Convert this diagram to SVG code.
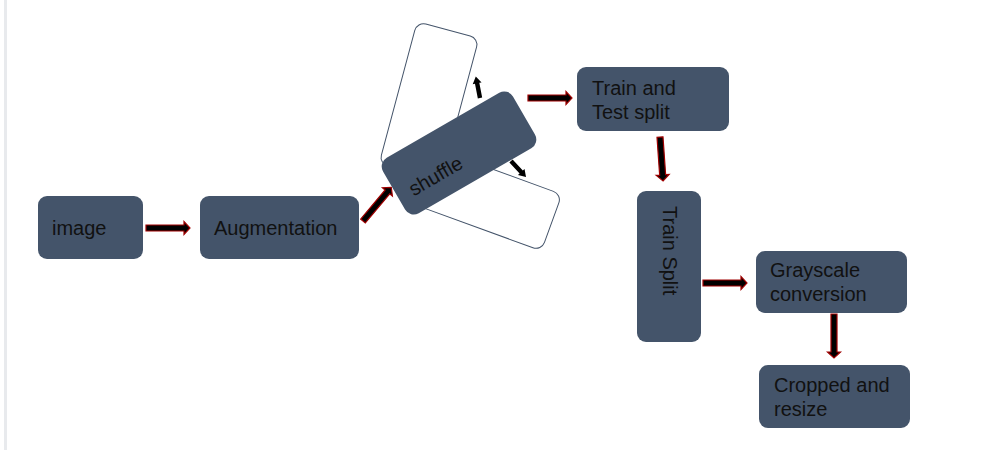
<svg xmlns="http://www.w3.org/2000/svg" width="992" height="450" viewBox="0 0 992 450">
  <defs>
    <style>
      .box { fill: #44546A; }
      .ghost { fill: #ffffff; stroke: #44546A; stroke-width: 1; }
      .lbl { font-family: "Liberation Sans", Arial, sans-serif; font-size: 20px; fill: #111111; }
      .big { fill: #000000; stroke: #A00000; stroke-width: 1.2; stroke-linejoin: miter; }
      .small { fill: #000000; }
    </style>
    <path id="bigArrow" d="M0,-3 L38,-3 L38,-6.5 L44,0 L38,6.5 L38,3 L0,3 Z"/>
    <path id="smallArrow" d="M0,-2.2 L15,-2.2 L15,-4.5 L22,0 L15,4.5 L15,2.2 L0,2.2 Z"/>
  </defs>

  <rect x="0" y="0" width="992" height="450" fill="#ffffff"/>
  <rect x="4" y="0" width="3" height="450" fill="#e8eaed"/>

  <g id="ghost-rects">
    <rect class="ghost" x="-32" y="-73.5" width="64" height="147" rx="9" transform="translate(429,101) rotate(15)"/>
    <rect class="ghost" x="-72" y="-30" width="144" height="60" rx="9" transform="translate(484,198) rotate(20)"/>
  </g>

  <g id="connectors">
    <use href="#bigArrow" class="big" transform="translate(146,228)"/>
    <use href="#bigArrow" class="big" transform="translate(363,221) rotate(-50)"/>
    <use href="#bigArrow" class="big" transform="translate(528,98)"/>
    <use href="#bigArrow" class="big" transform="translate(660,137) rotate(86)"/>
    <use href="#bigArrow" class="big" transform="translate(703,283)"/>
    <use href="#bigArrow" class="big" transform="translate(834,314) rotate(90)"/>
    <use href="#smallArrow" class="small" transform="translate(480,98) rotate(-101)"/>
    <use href="#smallArrow" class="small" transform="translate(511,161) rotate(47)"/>
  </g>

  <g id="node-image">
    <rect class="box" x="38" y="196" width="105" height="63" rx="9"/>
    <text class="lbl" x="52" y="235">image</text>
  </g>

  <g id="node-augmentation">
    <rect class="box" x="200" y="196" width="159" height="63" rx="9"/>
    <text class="lbl" x="214" y="235">Augmentation</text>
  </g>

  <g id="node-shuffle" transform="translate(459,153) rotate(-30)">
    <rect class="box" x="-75" y="-32" width="150" height="64" rx="10"/>
    <text class="lbl" x="-61" y="15">shuffle</text>
  </g>

  <g id="node-train-test-split">
    <rect class="box" x="577" y="67" width="152" height="64" rx="9"/>
    <text class="lbl" x="592" y="95">Train and</text>
    <text class="lbl" x="592" y="119">Test split</text>
  </g>

  <g id="node-train-split">
    <rect class="box" x="637" y="191" width="64" height="151" rx="9"/>
    <text class="lbl" transform="translate(663,206) rotate(90)">Train Split</text>
  </g>

  <g id="node-grayscale">
    <rect class="box" x="756" y="251" width="151" height="62" rx="9"/>
    <text class="lbl" x="770" y="277">Grayscale</text>
    <text class="lbl" x="770" y="301">conversion</text>
  </g>

  <g id="node-cropped">
    <rect class="box" x="759" y="365" width="151" height="63" rx="9"/>
    <text class="lbl" x="774" y="392">Cropped and</text>
    <text class="lbl" x="774" y="416">resize</text>
  </g>
</svg>
